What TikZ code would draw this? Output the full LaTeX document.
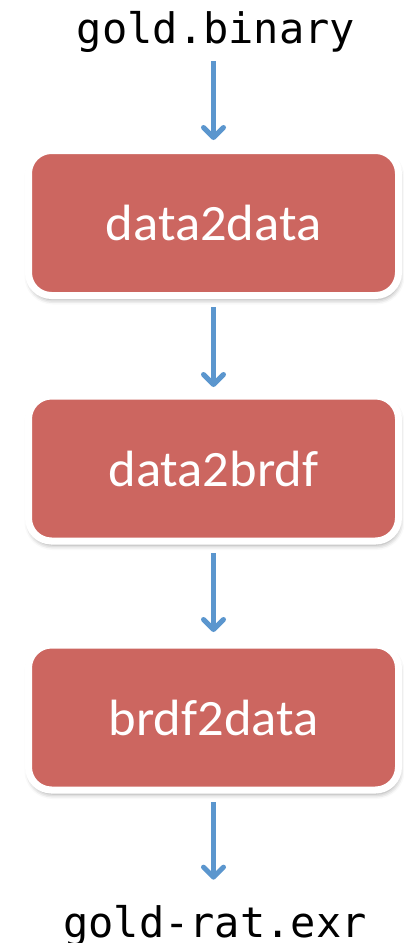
\documentclass[tikz,border=0pt]{standalone}
\usepackage{fontspec}
\usetikzlibrary{positioning, arrows.meta, shadows.blur}
\newfontfamily\codefont{DejaVu Sans Mono}
\newfontfamily\boxfont[FakeStretch=1.03]{Carlito}
\definecolor{stagered}{RGB}{204,102,96}
\definecolor{flowblue}{RGB}{91,150,206}

\begin{document}
\begin{tikzpicture}[x=1pt, y=-1pt,
	stage/.style={rounded corners=23pt, fill=stagered, draw=white, line width=7pt,
		minimum width=370pt, minimum height=145pt, text=white,
		font=\boxfont\fontsize{51}{60}\selectfont,
		blur shadow={shadow xshift=1pt, shadow yshift=-4pt, shadow blur radius=5pt, shadow opacity=40}},
	file/.style={inner sep=0pt, font=\codefont\fontsize{42}{50}\selectfont},
	flow/.style={-{Straight Barb[length=10pt, width=20pt, round]}, draw=flowblue, line width=5pt}]
	\useasboundingbox (0,0) rectangle (404,943);
	
	% Files and stages
	\node[file, anchor=base] (input) at (216, 43) {gold.binary};
	\node[stage] (d2d) at (213.5, 223) {data2data};
	\node[stage] (d2b) at (213.5, 468.5) {data2brdf};
	\node[stage] (b2d) at (213.5, 717.5) {brdf2data};
	\node[file, anchor=base] (output) at (215, 937) {gold-rat.exr};
	
	% Arrows between them
	\draw[flow, shorten <=9pt, shorten >=7pt] (input.south -| d2d.north) -- (d2d.north);
	\draw[flow, shorten <=8pt, shorten >=5.5pt] (d2d.south) -- (d2b.north);
	\draw[flow, shorten <=8.5pt, shorten >=9.5pt] (d2b.south) -- (b2d.north);
	\draw[flow, shorten <=8.5pt, shorten >=25pt] (b2d.south) -- (output.north -| b2d.south);
\end{tikzpicture}
\end{document}
